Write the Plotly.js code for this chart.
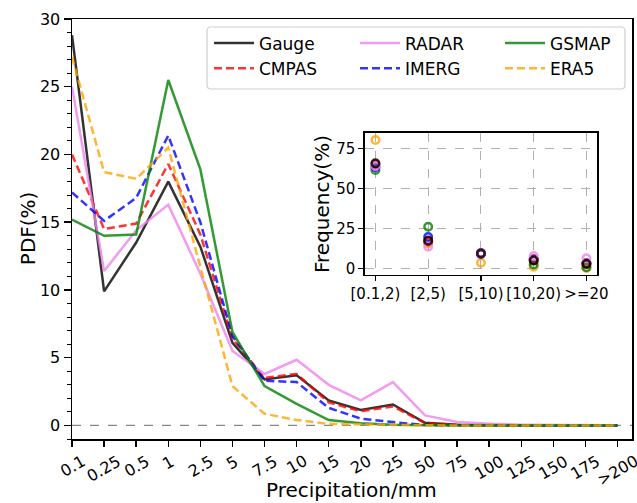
<!DOCTYPE html>
<html>
<head>
<meta charset="utf-8">
<script src="https://cdn.plot.ly/plotly-3.0.1.min.js"></script>
<style>html,body{margin:0;padding:0;background:#fff;}#chart{width:637px;height:503px;}</style>
</head>
<body>
<div id="chart"></div>
<script>
// ---- data ----
const categories = ['0.1','0.25','0.5','1','2.5','5','7.5','10','15','20','25','50','75','100','125','150','175','>200'];
const gauge = [28.8, 9.9, 13.5, 18.0, 13.2, 6.1, 3.4, 3.7, 1.85, 1.15, 1.55, 0.2, 0.05, 0.02, 0.01, 0.0, 0.0, 0.0];
const cmpas = [20.0, 14.5, 14.9, 19.3, 14.1, 6.4, 3.5, 3.8, 1.7, 1.05, 1.4, 0.18, 0.04, 0.01, 0.0, 0.0, 0.0, 0.0];
const radar = [25.0, 11.4, 14.4, 16.3, 11.2, 5.5, 3.8, 4.85, 3.0, 1.85, 3.2, 0.74, 0.25, 0.12, 0.06, 0.03, 0.02, 0.01];
const imerg = [17.2, 15.1, 16.8, 21.4, 15.0, 6.6, 3.3, 3.2, 1.3, 0.5, 0.25, 0.03, 0.01, 0.0, 0.0, 0.0, 0.0, 0.0];
const gsmap = [15.2, 14.0, 14.1, 25.5, 18.9, 6.9, 2.9, 1.6, 0.4, 0.17, 0.05, 0.01, 0.0, 0.0, 0.0, 0.0, 0.0, 0.0];
const era5  = [27.2, 18.7, 18.2, 20.5, 11.7, 2.9, 0.86, 0.4, 0.12, 0.07, 0.03, 0.01, 0.0, 0.0, 0.0, 0.0, 0.0, 0.0];

const freqCategories = ['[0.1,2)','[2,5)','[5,10)','[10,20)','>=20'];
const freqGauge = [65.6, 17.3, 9.4, 4.8, 2.7];
const freqCmpas = [65.0, 16.8, 9.3, 5.4, 3.0];
const freqRadar = [63.8, 13.5, 9.6, 7.7, 6.2];
const freqImerg = [63.2, 19.6, 9.0, 5.6, 3.1];
const freqGsmap = [61.5, 26.0, 9.2, 2.4, 0.6];
const freqEra5  = [80.2, 15.5, 3.5, 1.0, 0.2];

const seriesNames = ['Gauge','CMPAS','RADAR','IMERG','GSMAP','ERA5'];

// ---- styles ----
const colors = {
  Gauge: 'rgba(0,0,0,0.8)',
  CMPAS: 'rgba(255,0,0,0.8)',
  RADAR: 'rgba(238,130,238,0.8)',
  IMERG: 'rgba(0,0,255,0.8)',
  GSMAP: 'rgba(0,128,0,0.8)',
  ERA5:  'rgba(255,165,0,0.8)'
};
const dashes = {Gauge:'solid', CMPAS:'8px,4px', RADAR:'solid', IMERG:'8px,4px', GSMAP:'solid', ERA5:'8px,4px'};
const legendOf = {Gauge:'legend', CMPAS:'legend', RADAR:'legend2', IMERG:'legend2', GSMAP:'legend3', ERA5:'legend3'};
const pdfData = {Gauge:gauge, CMPAS:cmpas, RADAR:radar, IMERG:imerg, GSMAP:gsmap, ERA5:era5};
const freqData = {Gauge:freqGauge, CMPAS:freqCmpas, RADAR:freqRadar, IMERG:freqImerg, GSMAP:freqGsmap, ERA5:freqEra5};

const FONT = 'DejaVu Sans, Verdana, sans-serif';
const traces = [];
seriesNames.forEach(n => {
  traces.push({
    type:'scatter', mode:'lines', name:n, x:categories, y:pdfData[n],
    line:{color:colors[n], width:2.5, dash:dashes[n]},
    legend: legendOf[n], xaxis:'x', yaxis:'y', hoverinfo:'skip'
  });
});
const insetOrder = ['ERA5','GSMAP','IMERG','CMPAS','RADAR','Gauge'];
insetOrder.forEach(n => {
  traces.push({
    type:'scatter', mode:'markers', name:n, x:freqCategories, y:freqData[n],
    marker:{symbol:'circle-open', size:7.5, color:colors[n], line:{width:2.5, color:colors[n]}},
    showlegend:false, xaxis:'x2', yaxis:'y2', hoverinfo:'skip'
  });
});

const annotations = categories.map((c, i) => ({
  xref:'x', yref:'paper', x:i, y:0, yshift:-10, xanchor:'center', yanchor:'top',
  text:c, textangle:-30, showarrow:false, font:{family:FONT, size:16, color:'#000'}
}));
annotations.push({
  xref:'paper', yref:'paper', x:0.499, y:0, yshift:-51, xanchor:'center', yanchor:'middle',
  text:'Precipitation/mm', showarrow:false, font:{family:FONT, size:20, color:'#000'}
});
annotations.push({
  xref:'paper', yref:'paper', x:0, xshift:-44, y:0.502, xanchor:'center', yanchor:'middle',
  text:'PDF(%)', textangle:-90, showarrow:false, font:{family:FONT, size:20, color:'#000'}
});

function legendAt(xp) {
  return {
    orientation:'v', x:xp, y:0.9845, xanchor:'left', yanchor:'top',
    itemwidth:40, font:{family:FONT, size:17, color:'#000'},
    bgcolor:'rgba(0,0,0,0)', borderwidth:0, traceorder:'normal'
  };
}

// rounded legend frame (paper coordinates)
const PW = 560, PH = 420;
function roundedBox(x0px, y0px, x1px, y1px, r) {
  const X = p => ((p - 72) / PW).toFixed(5);
  const Y = p => ((439 - p) / PH).toFixed(5);
  return 'M' + X(x0px + r) + ',' + Y(y0px) +
    ' L' + X(x1px - r) + ',' + Y(y0px) +
    ' Q' + X(x1px) + ',' + Y(y0px) + ' ' + X(x1px) + ',' + Y(y0px + r) +
    ' L' + X(x1px) + ',' + Y(y1px - r) +
    ' Q' + X(x1px) + ',' + Y(y1px) + ' ' + X(x1px - r) + ',' + Y(y1px) +
    ' L' + X(x0px + r) + ',' + Y(y1px) +
    ' Q' + X(x0px) + ',' + Y(y1px) + ' ' + X(x0px) + ',' + Y(y1px - r) +
    ' L' + X(x0px) + ',' + Y(y0px + r) +
    ' Q' + X(x0px) + ',' + Y(y0px) + ' ' + X(x0px + r) + ',' + Y(y0px) + ' Z';
}

const layout = {
  width:637, height:503,
  margin:{l:72, r:5, t:19, b:64, pad:0},
  paper_bgcolor:'#fff', plot_bgcolor:'#fff',
  font:{family:FONT, color:'#000'},
  showlegend:true,
  legend: legendAt((209-72)/560),
  legend2: legendAt((355-72)/560),
  legend3: legendAt((500-72)/560),
  xaxis:{
    type:'category', range:[0, 17.45], showticklabels:false,
    showline:true, mirror:true, linecolor:'#000', linewidth:1.5,
    ticks:'outside', ticklen:6, tickwidth:1.5, tickcolor:'#000',
    showgrid:false, zeroline:false
  },
  yaxis:{
    range:[-1, 30], dtick:5, tick0:0,
    showline:true, mirror:true, linecolor:'#000', linewidth:1.5,
    ticks:'outside', ticklen:7, tickwidth:1.5, tickcolor:'#000',
    minor:{dtick:1, ticks:'outside', ticklen:4, tickwidth:1, tickcolor:'#000', showgrid:false},
    tickfont:{family:FONT, size:16, color:'#000'},
    showgrid:false, zeroline:false
  },
  xaxis2:{
    domain:[0.523, 0.9375], anchor:'y2', type:'category', range:[-0.2, 4.2],
    showline:true, mirror:true, linecolor:'#000', linewidth:1.5,
    ticks:'outside', ticklen:5, tickwidth:1.2, tickcolor:'#000',
    tickfont:{family:FONT, size:15, color:'#000'},
    showgrid:true, gridcolor:'#b0b0b0', gridwidth:1, griddash:'dash', zeroline:false
  },
  yaxis2:{
    domain:[0.3905, 0.7286], anchor:'x2', range:[-4.2, 84.6], tickvals:[0,25,50,75],
    showline:true, mirror:true, linecolor:'#000', linewidth:1.5,
    ticks:'outside', ticklen:5, tickwidth:1.2, tickcolor:'#000',
    tickfont:{family:FONT, size:15, color:'#000'},
    title:{text:'Frequency(%)', font:{family:FONT, size:20, color:'#000'}, standoff:1},
    showgrid:true, gridcolor:'#b0b0b0', gridwidth:1, griddash:'dash', zeroline:false
  },
  shapes:[{
    type:'line', xref:'paper', yref:'y', x0:0, x1:1, y0:0, y1:0,
    line:{color:'#888888', width:1.2, dash:'dash'}, layer:'below'
  },{
    type:'path', xref:'paper', yref:'paper',
    path: roundedBox(207, 27, 625, 89, 4),
    line:{color:'#d0d0d0', width:1.2}, fillcolor:'rgba(255,255,255,0.8)', layer:'above'
  }],
  annotations: annotations
};

Plotly.newPlot('chart', traces, layout, {staticPlot:true, displayModeBar:false});
</script>
</body>
</html>
